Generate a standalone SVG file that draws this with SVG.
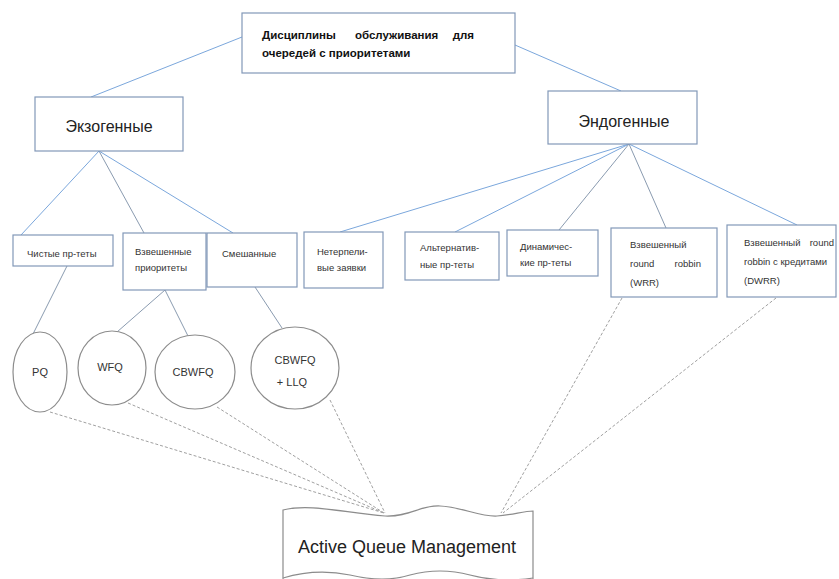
<svg xmlns="http://www.w3.org/2000/svg" width="839" height="579" viewBox="0 0 839 579">
<style>
.box{fill:#fff;stroke:#8298b8;stroke-width:1.2}
.ell{fill:#fff;stroke:#8c8c8c;stroke-width:1.2}
.blue{stroke:#7ba7dc;stroke-width:1;fill:none}
.gray{stroke:#8a9bb0;stroke-width:1;fill:none}
.dash{stroke:#a0a0a0;stroke-width:1;fill:none;stroke-dasharray:3 2}
.t{font-family:"Liberation Sans",Arial,sans-serif;fill:#333;font-size:9.5px}
.tb{font-family:"Liberation Sans",Arial,sans-serif;fill:#111;font-size:11.5px;font-weight:bold}
.tm{font-family:"Liberation Sans",Arial,sans-serif;fill:#222;font-size:16px}
.te{font-family:"Liberation Sans",Arial,sans-serif;fill:#333;font-size:11px;text-anchor:middle}
</style>
<rect width="839" height="579" fill="#fff"/>
<g id="connectors">
<line class="blue" x1="242" y1="37" x2="91" y2="97"/>
<line class="blue" x1="515" y1="45" x2="621" y2="91"/>
<line class="blue" x1="99" y1="151" x2="21" y2="235"/>
<line class="gray" x1="99" y1="151" x2="144" y2="233"/>
<line class="blue" x1="99" y1="151" x2="233" y2="233"/>
<line class="blue" x1="629" y1="144" x2="340" y2="232"/>
<line class="blue" x1="629" y1="144" x2="455" y2="232"/>
<line class="gray" x1="629" y1="144" x2="559" y2="230"/>
<line class="gray" x1="629" y1="144" x2="666" y2="228"/>
<line class="blue" x1="629" y1="144" x2="797" y2="225"/>
<line class="gray" x1="67" y1="266" x2="33" y2="334"/>
<line class="gray" x1="165" y1="290" x2="117" y2="332"/>
<line class="gray" x1="165" y1="290" x2="188" y2="336"/>
<line class="gray" x1="255" y1="287" x2="282" y2="328"/>
<line class="dash" x1="50" y1="412" x2="384" y2="513"/>
<line class="dash" x1="128" y1="403" x2="384" y2="513"/>
<line class="dash" x1="217" y1="407" x2="384" y2="513"/>
<line class="dash" x1="330" y1="400" x2="385" y2="513"/>
<line class="dash" x1="622" y1="298" x2="501" y2="513"/>
<line class="dash" x1="776" y1="298" x2="503" y2="513"/>
</g>
<g id="root">
<rect class="box" x="242" y="13" width="273" height="60"/>
<text class="tb" y="39"><tspan x="262">Дисциплины</tspan><tspan x="355">обслуживания</tspan><tspan x="474" text-anchor="end">для</tspan></text>
<text class="tb" x="262" y="57">очередей с приоритетами</text>
</g>
<g id="exo">
<rect class="box" x="35" y="97" width="148" height="54"/>
<text class="tm" x="109" y="132" text-anchor="middle">Экзогенные</text>
</g>
<g id="endo">
<rect class="box" x="548" y="91" width="149" height="53"/>
<text class="tm" x="624" y="127" text-anchor="middle">Эндогенные</text>
</g>
<g id="pure">
<rect class="box" x="13" y="235" width="100" height="31"/>
<text class="t" x="27" y="257">Чистые пр-теты</text>
</g>
<g id="weighted">
<rect class="box" x="123" y="233" width="83" height="57"/>
<text class="t" x="135" y="255">Взвешенные</text>
<text class="t" x="135" y="271">приоритеты</text>
</g>
<g id="mixed">
<rect class="box" x="207" y="233" width="90" height="54"/>
<text class="t" x="222" y="257">Смешанные</text>
</g>
<g id="impatient">
<rect class="box" x="304" y="232" width="79" height="56"/>
<text class="t" x="317" y="255">Нетерпели-</text>
<text class="t" x="317" y="271">вые заявки</text>
</g>
<g id="alternating">
<rect class="box" x="405" y="232" width="94" height="48"/>
<text class="t" x="420" y="251">Альтернатив-</text>
<text class="t" x="420" y="268">ные пр-теты</text>
</g>
<g id="dynamic">
<rect class="box" x="507" y="230" width="91" height="46"/>
<text class="t" x="520" y="250">Динамичес-</text>
<text class="t" x="520" y="266">кие пр-теты</text>
</g>
<g id="wrr">
<rect class="box" x="611" y="228" width="106" height="69"/>
<text class="t" x="630" y="248">Взвешенный</text>
<text class="t" y="267"><tspan x="630">round</tspan><tspan x="701" text-anchor="end">robbin</tspan></text>
<text class="t" x="630" y="286">(WRR)</text>
</g>
<g id="dwrr">
<rect class="box" x="727" y="225" width="109" height="72"/>
<text class="t" y="246"><tspan x="744">Взвешенный</tspan><tspan x="834" text-anchor="end">round</tspan></text>
<text class="t" x="744" y="265">robbin с кредитами</text>
<text class="t" x="744" y="284">(DWRR)</text>
</g>
<g id="pq">
<ellipse class="ell" cx="40" cy="372" rx="27" ry="40"/>
<text class="te" x="40" y="376">PQ</text>
</g>
<g id="wfq">
<ellipse class="ell" cx="112" cy="368" rx="34" ry="37"/>
<text class="te" x="110" y="371">WFQ</text>
</g>
<g id="cbwfq">
<ellipse class="ell" cx="195" cy="372" rx="40" ry="37"/>
<text class="te" x="193" y="376">CBWFQ</text>
</g>
<g id="cbwfq-llq">
<ellipse class="ell" cx="295" cy="368" rx="44" ry="41"/>
<text class="te" x="295" y="364">CBWFQ</text>
<text class="te" x="292" y="386">+ LLQ</text>
</g>
<g id="aqm">
<path class="ell" d="M283,510 C310,503 345,513 385,516 C410,517 420,505 440,506 C462,507 480,517 497,516 C512,515 524,511 533,511 L533,585 L283,585 Z"/>
<path class="ell" d="M283,578 Q316,568 350,575 Q384,583 410,575 Q440,567 470,575 Q500,583 533,578" fill="none"/>
<text class="tm" x="407" y="553" text-anchor="middle" style="font-size:18px">Active Queue Management</text>
</g>
</svg>
